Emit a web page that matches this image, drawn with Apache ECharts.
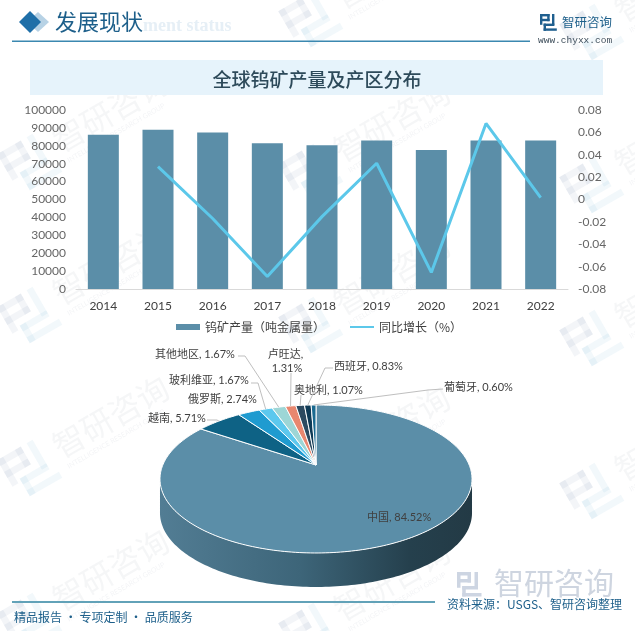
<!DOCTYPE html>
<html>
<head>
<meta charset="utf-8">
<title>全球钨矿产量及产区分布</title>
<style>
  html, body { margin: 0; padding: 0; background: #fff; }
  #main { width: 635px; height: 631px; }
</style>
<script src="https://cdn.jsdelivr.net/npm/echarts@6/dist/echarts.min.js"></script>
</head>
<body>
<div id="main"></div>
<script>
var years = ['2014', '2015', '2016', '2017', '2018', '2019', '2020', '2021', '2022'];
var output = [86200, 88900, 87400, 81400, 80300, 82900, 77700, 83000, 83000];
var growth = [null, 0.0294, -0.017, -0.0688, -0.0153, 0.0324, -0.0652, 0.068, 0.0017];

var regions = ['中国', '越南', '俄罗斯', '玻利维亚', '其他地区', '卢旺达', '奥地利', '西班牙', '葡萄牙'];
var shares = [84.52, 5.71, 2.74, 1.67, 1.67, 1.31, 1.07, 0.83, 0.60];

var font = 'Lato, "Noto Sans CJK SC", sans-serif';
var cjk = '"Noto Sans CJK SC", sans-serif';

// ------------------------------
// 3D pie layout (perspective ellipse)
// ------------------------------
var pieColors = ['#5b8ea8', '#0e6285', '#1f9bd0', '#5cc8ee', '#9dd6d6', '#e8876f', '#2c4a60', '#0e3a55', '#1a6a90'];
var cx = 316, cy = 465, depth = 34;
var persp = 0.189, scaleX = 153.2, scaleY = 71.35;

// where each label sits, leader holds the knee points from label to slice
var labelLayout = [
  { x: 367, y: 517, leader: null },
  { x: 148, y: 418, leader: [[207, 420], [217, 420]] },
  { x: 188, y: 399, leader: null },
  { x: 169, y: 380, leader: [[251, 383], [258, 383]] },
  { x: 155, y: 354, leader: [[238, 356], [245, 356]] },
  { x: 269, y: 361, leader: [[291, 373]], wrap: true },
  { x: 294, y: 390, leader: [[301, 395]] },
  { x: 334, y: 366, leader: [[333, 368], [325, 368]] },
  { x: 444, y: 387, leader: [[443, 389], [428, 390]] }
];

function piePoint(theta) {
  var w = 1 + persp * Math.cos(theta);
  return [cx + scaleX * Math.sin(theta) / w, cy - scaleY * Math.cos(theta) / w];
}

var total = shares.reduce(function (a, b) { return a + b; }, 0);
var startAngles = [];
var sum = 0;
shares.forEach(function (v) {
  startAngles.push(sum / total * Math.PI * 2);
  sum += v;
});

function arcPoints(a0, a1) {
  var n = Math.max(2, Math.ceil(Math.abs(a1 - a0) / 0.02));
  var pts = [];
  for (var i = 0; i <= n; i++) {
    pts.push(piePoint(a0 + (a1 - a0) * i / n));
  }
  return pts;
}

function renderSide() {
  var edge = Math.acos(-persp);
  var top = arcPoints(edge, Math.PI * 2 - edge);
  var bottom = top.map(function (p) { return [p[0], p[1] + depth]; }).reverse();
  return {
    type: 'polygon',
    shape: { points: top.concat(bottom) },
    style: {
      fill: new echarts.graphic.LinearGradient(0, 0, 1, 0, [
        { offset: 0, color: '#527d94' },
        { offset: 0.45, color: '#3d6579' },
        { offset: 0.8, color: '#25404d' },
        { offset: 1, color: '#233a45' }
      ])
    }
  };
}

function renderSlice(params) {
  var i = params.dataIndex;
  var a0 = startAngles[i];
  var a1 = i + 1 < startAngles.length ? startAngles[i + 1] : Math.PI * 2;
  return {
    type: 'polygon',
    shape: { points: [[cx, cy]].concat(arcPoints(a0, a1)) },
    style: { fill: pieColors[i], stroke: '#fff', lineWidth: 1, lineJoin: 'round' }
  };
}

function renderLabel(params) {
  var i = params.dataIndex;
  var l = labelLayout[i];
  var a0 = startAngles[i];
  var a1 = i + 1 < startAngles.length ? startAngles[i + 1] : Math.PI * 2;
  var mid = piePoint((a0 + a1) / 2);
  var name = regions[i] + ', ';
  var pct = shares[i].toFixed(2) + '%';
  var children = [];
  if (l.leader) {
    children.push({
      type: 'polyline',
      shape: { points: l.leader.concat([[mid[0], mid[1]]]) },
      style: { fill: null, stroke: '#bfbfbf', lineWidth: 1 }
    });
  }
  children.push({
    type: 'text',
    style: {
      x: l.wrap ? l.x + 18 : l.x,
      y: l.y,
      text: l.wrap ? name + '\n' + pct : name + pct,
      font: '11px ' + font,
      fill: '#404040',
      align: l.wrap ? 'center' : 'left',
      verticalAlign: 'middle',
      lineHeight: 14
    }
  });
  return { type: 'group', children: children };
}

// ------------------------------
// Page furniture: logo and watermark
// ------------------------------
function logoBars(s, color, color2) {
  var left = [[0, 0, 8, 2], [0, 0, 2, 9], [0, 4, 8, 2], [6, 0, 2, 6]];
  var right = [[10, 0, 2, 9], [3, 8, 9, 2], [3, 8, 2, 6], [3, 12, 11, 2]];
  function toRect(c) {
    return function (b) {
      return {
        type: 'rect',
        shape: { x: b[0] * s, y: b[1] * s, width: b[2] * s, height: b[3] * s },
        style: { fill: c }
      };
    };
  }
  return left.map(toRect(color)).concat(right.map(toRect(color2 || color)));
}

var markTiles = [
  [30, 163], [30, 316], [30, 469], [30, 622],
  [311, 20], [311, 173], [311, 326], [311, 479], [311, 632],
  [592, 33], [592, 186], [592, 339], [592, 492]
];
var watermarks = markTiles.map(function (t) {
  return {
    type: 'group',
    x: t[0],
    y: t[1],
    rotation: Math.PI / 6,
    silent: true,
    children: [
      { type: 'group', x: -24, y: -24, children: logoBars(3.4, 'rgba(90,115,150,0.07)', 'rgba(70,160,200,0.07)') },
      { type: 'text', x: 32, y: -5, style: { text: '智研咨询', font: '32px ' + cjk, fill: 'rgba(80,100,125,0.06)', verticalAlign: 'middle' } },
      { type: 'text', x: 34, y: 17, style: { text: 'INTELLIGENCE RESEARCH GROUP', font: '7px ' + font, fill: 'rgba(80,100,125,0.07)', verticalAlign: 'middle' } }
    ]
  };
});

var furniture = [
  { type: 'text', x: 143, y: 26, style: { text: 'ment status', font: 'bold 18px "Liberation Serif", serif', fill: '#e6eff6', verticalAlign: 'middle' } },
  { type: 'polygon', shape: { points: [[38, 12], [49, 22], [38, 32], [27, 22]] }, style: { fill: '#b7d2e5' } },
  { type: 'polygon', shape: { points: [[30, 11], [41, 22], [30, 33], [19, 22]] }, style: { fill: '#1f6fa8' } },
  { type: 'text', x: 55, y: 22, style: { text: '发展现状', font: '22px ' + cjk, fill: '#1d5f8a', verticalAlign: 'middle' } },
  { type: 'rect', shape: { x: 12, y: 40.5, width: 518, height: 1.5 }, style: { fill: '#3b88b0' } },
  { type: 'group', x: 540, y: 14, children: logoBars(1.2, '#1f5f8f') },
  { type: 'text', x: 562, y: 22, style: { text: '智研咨询', font: '12.5px ' + cjk, fill: '#1d5f8a', verticalAlign: 'middle' } },
  { type: 'text', x: 538, y: 40, style: { text: 'www.chyxx.com', font: '9.5px "Liberation Mono", monospace', fill: '#3f4f5c', verticalAlign: 'middle' } },
  { type: 'rect', shape: { x: 30, y: 60, width: 573, height: 35 }, style: { fill: '#e6f3fb' } },
  { type: 'text', x: 317, y: 80, style: { text: '全球钨矿产量及产区分布', font: '500 19px ' + cjk, fill: '#2d4a5a', align: 'center', verticalAlign: 'middle' } },
  { type: 'rect', shape: { x: 12, y: 601, width: 423, height: 2 }, style: { fill: '#62a2b8' } },
  { type: 'text', x: 14, y: 617, style: { text: '精品报告 · 专项定制 · 品质服务', font: '12px ' + cjk, fill: '#1d5f8a', verticalAlign: 'middle' } },
  { type: 'group', x: 457, y: 572, children: logoBars(1.75, '#cdd5e2') },
  { type: 'text', x: 494, y: 583, style: { text: '智研咨询', font: '30px ' + cjk, fill: '#ced5e0', verticalAlign: 'middle' } },
  { type: 'text', x: 447, y: 604, style: { text: '资料来源：USGS、智研咨询整理', font: '12px ' + cjk, fill: '#1d5f8a', verticalAlign: 'middle' } }
];

function plainTick(val) {
  return String(val);
}

var myChart = echarts.init(document.getElementById('main'));

var option = {
  animation: false,
  backgroundColor: '#fff',
  textStyle: { fontFamily: font },
  graphic: { elements: watermarks.concat(furniture) },
  legend: {
    left: 171,
    top: 316,
    itemWidth: 24,
    itemHeight: 6,
    itemGap: 24,
    data: [
      { name: '钨矿产量（吨金属量）', icon: 'rect' },
      { name: '同比增长（%）', itemStyle: { opacity: 0 } }
    ],
    textStyle: { fontSize: 12, color: '#404040', fontFamily: cjk }
  },
  grid: { left: 76, right: 67, top: 110, height: 179 },
  xAxis: {
    type: 'category',
    data: years,
    axisTick: { show: false },
    axisLine: { lineStyle: { color: '#d9d9d9' } },
    axisLabel: { color: '#404040', fontSize: 12, margin: 11 }
  },
  yAxis: [
    {
      type: 'value',
      min: 0,
      max: 100000,
      interval: 10000,
      splitLine: { show: false },
      axisLine: { show: false },
      axisTick: { show: false },
      axisLabel: { color: '#666', fontSize: 12, margin: 10, formatter: plainTick }
    },
    {
      type: 'value',
      min: -0.08,
      max: 0.08,
      interval: 0.02,
      splitLine: { show: false },
      axisLine: { show: false },
      axisTick: { show: false },
      axisLabel: { color: '#666', fontSize: 12, margin: 10 }
    }
  ],
  series: [
    {
      name: '钨矿产量（吨金属量）',
      type: 'bar',
      data: output,
      barWidth: 31,
      itemStyle: { color: '#5b8ea8' }
    },
    {
      name: '同比增长（%）',
      type: 'line',
      yAxisIndex: 1,
      data: growth,
      showSymbol: false,
      symbol: 'none',
      lineStyle: { color: '#5cc8ea', width: 3 },
      itemStyle: { color: '#5cc8ea' }
    },
    {
      type: 'custom',
      coordinateSystem: 'none',
      silent: true,
      z: 3,
      data: [total],
      renderItem: renderSide
    },
    {
      type: 'custom',
      coordinateSystem: 'none',
      silent: true,
      z: 4,
      data: shares,
      renderItem: renderSlice
    },
    {
      type: 'custom',
      coordinateSystem: 'none',
      silent: true,
      z: 5,
      data: shares,
      renderItem: renderLabel
    }
  ]
};

myChart.setOption(option);
</script>
</body>
</html>
